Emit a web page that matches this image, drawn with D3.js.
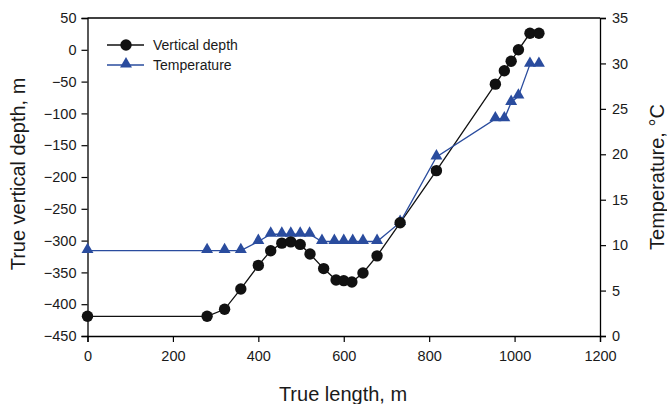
<!DOCTYPE html>
<html>
<head>
<meta charset="utf-8">
<script src="https://cdn.jsdelivr.net/npm/d3@7"></script>
<style>
  body { margin: 0; background: #fff; }
  svg { font-family: "Liberation Sans", Arial, sans-serif; }
</style>
</head>
<body>
<svg width="667" height="404"></svg>
<script>
// true length (m) for each measurement
const depthLength=[0,280,321,359,400,429,455,476,498,521,553,582,600,619,645,678,732,817,955,976,992,1009,1036,1057];
const depthValues=[-419,-419,-408,-376,-339,-316,-304,-302,-306,-321,-344,-362,-363,-365,-351,-324,-272,-190,-54,-33,-18,0,26,26];

const tempLength=[0,280,321,359,400,429,455,476,498,520,549,578,600,621,645,678,732,817,955,976,992,1009,1036,1057];
const tempValues=[9.4,9.4,9.4,9.4,10.4,11.2,11.2,11.2,11.2,11.2,10.4,10.4,10.4,10.4,10.4,10.4,12.5,19.7,23.9,23.9,25.7,26.4,29.9,29.9];

const xTicks=[0,200,400,600,800,1000,1200];
const yLeftTicks=[50,0,-50,-100,-150,-200,-250,-300,-350,-400,-450];
const yRightTicks=[0,5,10,15,20,25,30,35];

const svg=d3.select('svg');
const margin={left:87.5,right:67,top:18,bottom:68};
const width= +svg.attr('width');
const height= +svg.attr('height');
const plotW=width-margin.left-margin.right;
const plotH=height-margin.top-margin.bottom;

const blue='#2a4c9e';
const textColor='#1a1a1a';

const x=d3.scaleLinear().domain([0,1200]).range([margin.left,margin.left+plotW]);
const yL=d3.scaleLinear().domain([-450,50]).range([margin.top+plotH,margin.top]);
const yR=d3.scaleLinear().domain([0,35]).range([margin.top+plotH,margin.top]);

// frame top line
svg.append('line')
    .attr('x1',margin.left).attr('x2',margin.left+plotW)
    .attr('y1',margin.top).attr('y2',margin.top)
    .attr('stroke','#000').attr('stroke-width',1.3);

const styleAxis=(g)=>{
    g.selectAll('.domain').attr('stroke','#000').attr('stroke-width',1.3);
    g.selectAll('.tick line').attr('stroke','#000').attr('stroke-width',1.2);
    g.selectAll('.tick text').attr('font-size',14.5).attr('fill',textColor)
        .attr('font-family','"Liberation Sans", Arial, sans-serif');
};

svg.append('g')
    .attr('transform',`translate(0,${margin.top+plotH})`)
    .call(d3.axisBottom(x).tickValues(xTicks).tickFormat(d3.format('d')).tickSizeOuter(0).tickSize(6).tickPadding(9))
    .call(styleAxis);

const minus=d=>d<0?'\u2212'+Math.abs(d):String(d);
svg.append('g')
    .attr('transform',`translate(${margin.left},0)`)
    .call(d3.axisLeft(yL).tickValues(yLeftTicks).tickFormat(minus).tickSizeOuter(0).tickSize(6).tickPadding(5))
    .call(styleAxis);

svg.append('g')
    .attr('transform',`translate(${margin.left+plotW},0)`)
    .call(d3.axisRight(yR).tickValues(yRightTicks).tickSizeOuter(0).tickSize(6).tickPadding(6))
    .call(styleAxis);

// axis titles
svg.append('text')
    .attr('x',343).attr('y',401)
    .attr('text-anchor','middle').attr('font-size',20).attr('fill',textColor)
    .text('True length, m');

svg.append('text')
    .attr('transform','translate(25,174) rotate(-90)')
    .attr('text-anchor','middle').attr('font-size',20).attr('fill',textColor)
    .text('True vertical depth, m');

svg.append('text')
    .attr('transform',`translate(664,${margin.top+plotH/2}) rotate(-90)`)
    .attr('text-anchor','middle').attr('font-size',20).attr('fill',textColor)
    .text('Temperature, \u00b0C');

// depth series
const depthData=depthLength.map((d,i)=>({x:d,y:depthValues[i]}));
const tempData=tempLength.map((d,i)=>({x:d,y:tempValues[i]}));

svg.append('path')
    .datum(depthData)
    .attr('fill','none').attr('stroke','#111').attr('stroke-width',1.3)
    .attr('d',d3.line().x(d=>x(d.x)).y(d=>yL(d.y)));

svg.append('path')
    .datum(tempData)
    .attr('fill','none').attr('stroke',blue).attr('stroke-width',1.3)
    .attr('d',d3.line().x(d=>x(d.x)).y(d=>yR(d.y)));

const tri=d3.symbol().type(d3.symbolTriangle).size(62);

svg.append('g').selectAll('path')
    .data(tempData)
    .join('path')
    .attr('d',tri)
    .attr('transform',d=>`translate(${x(d.x)},${yR(d.y)-1})`)
    .attr('fill',blue);

svg.append('g').selectAll('circle')
    .data(depthData)
    .join('circle')
    .attr('cx',d=>x(d.x))
    .attr('cy',d=>yL(d.y))
    .attr('r',5.7)
    .attr('fill','#111');

// legend
const legend=svg.append('g').attr('transform','translate(107,45)');
legend.append('line').attr('x1',0).attr('x2',37).attr('y1',0).attr('y2',0)
    .attr('stroke','#111').attr('stroke-width',1.3);
legend.append('circle').attr('cx',19).attr('cy',0).attr('r',5.7).attr('fill','#111');
legend.append('text').attr('x',46).attr('y',5).attr('font-size',14).attr('fill',textColor)
    .text('Vertical depth');

legend.append('line').attr('x1',0).attr('x2',37).attr('y1',20).attr('y2',20)
    .attr('stroke',blue).attr('stroke-width',1.3);
legend.append('path').attr('d',tri).attr('transform','translate(19,19)').attr('fill',blue);
legend.append('text').attr('x',46).attr('y',25).attr('font-size',14).attr('fill',textColor)
    .text('Temperature');
</script>
</body>
</html>
